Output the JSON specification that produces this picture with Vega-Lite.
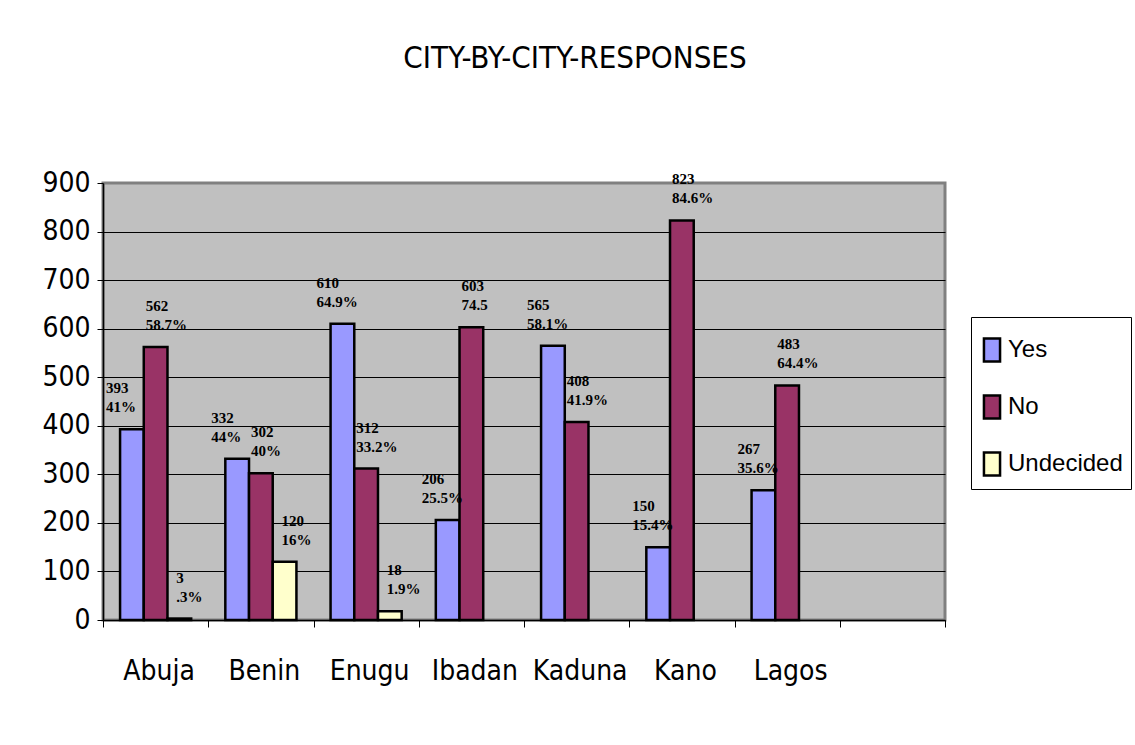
{
  "$schema": "https://vega.github.io/schema/vega-lite/v6.json",
  "width": 842,
  "height": 437,
  "autosize": {"type": "none"},
  "padding": {"left": 103, "top": 183, "right": 190, "bottom": 125},
  "background": "white",
  "title": {
    "text": "CITY-BY-CITY-RESPONSES",
    "font": "Liberation Sans Narrow, Arial Narrow, DejaVu Sans Condensed, Liberation Sans, sans-serif",
    "fontSize": 31,
    "fontWeight": "normal",
    "color": "black",
    "anchor": "middle",
    "frame": "group",
    "dx": 51,
    "baseline": "alphabetic",
    "offset": 70
  },
  "data": {
    "values": [
      {"city": "Abuja", "series": "Yes", "value": 393, "label": "393\n41%"},
      {"city": "Abuja", "series": "No", "value": 562, "label": "562\n58.7%"},
      {"city": "Abuja", "series": "Undecided", "value": 3, "label": "3\n.3%"},
      {"city": "Benin", "series": "Yes", "value": 332, "label": "332\n44%"},
      {"city": "Benin", "series": "No", "value": 302, "label": "302\n40%"},
      {"city": "Benin", "series": "Undecided", "value": 120, "label": "120\n16%"},
      {"city": "Enugu", "series": "Yes", "value": 610, "label": "610\n64.9%"},
      {"city": "Enugu", "series": "No", "value": 312, "label": "312\n33.2%"},
      {"city": "Enugu", "series": "Undecided", "value": 18, "label": "18\n1.9%"},
      {"city": "Ibadan", "series": "Yes", "value": 206, "label": "206\n25.5%"},
      {"city": "Ibadan", "series": "No", "value": 603, "label": "603\n74.5"},
      {"city": "Kaduna", "series": "Yes", "value": 565, "label": "565\n58.1%"},
      {"city": "Kaduna", "series": "No", "value": 408, "label": "408\n41.9%"},
      {"city": "Kano", "series": "Yes", "value": 150, "label": "150\n15.4%"},
      {"city": "Kano", "series": "No", "value": 823, "label": "823\n84.6%"},
      {"city": "Lagos", "series": "Yes", "value": 267, "label": "267\n35.6%"},
      {"city": "Lagos", "series": "No", "value": 483, "label": "483\n64.4%"}
    ]
  },
  "encoding": {
    "x": {
      "field": "city",
      "type": "nominal",
      "sort": null,
      "scale": {
        "domain": ["Abuja", "Benin", "Enugu", "Ibadan", "Kaduna", "Kano", "Lagos", ""],
        "paddingInner": 0,
        "paddingOuter": 0
      },
      "axis": {
        "title": null,
        "labelAngle": 0,
        "tickBand": "extent",
        "tickSize": 7,
        "tickColor": "black",
        "tickWidth": 1,
        "domainColor": "black",
        "domainWidth": 1.5,
        "labelFont": "Liberation Sans Narrow, Arial Narrow, DejaVu Sans Condensed, Liberation Sans, sans-serif",
        "labelFontSize": 28,
        "labelColor": "black",
        "labelPadding": 30,
        "labelOffset": 3,
        "grid": false
      }
    },
    "xOffset": {
      "field": "series",
      "type": "nominal",
      "scale": {"domain": ["Yes", "No", "Undecided"], "paddingInner": 0, "paddingOuter": 0.72}
    },
    "y": {
      "field": "value",
      "type": "quantitative",
      "scale": {"domain": [0, 900], "nice": false},
      "axis": {
        "title": null,
        "values": [0, 100, 200, 300, 400, 500, 600, 700, 800, 900],
        "labelFont": "Liberation Sans Narrow, Arial Narrow, DejaVu Sans Condensed, Liberation Sans, sans-serif",
        "labelFontSize": 28,
        "labelColor": "black",
        "labelPadding": 7,
        "tickSize": 6,
        "tickColor": "black",
        "domainColor": "black",
        "domainWidth": 1.5,
        "grid": true,
        "gridColor": {"condition": {"test": "datum.value >= 900", "value": "transparent"}, "value": "black"},
        "gridWidth": 1,
        "gridOpacity": 1
      }
    }
  },
  "layer": [
    {
      "mark": {"type": "bar", "stroke": "black", "strokeWidth": 2.5},
      "encoding": {
        "fill": {
          "field": "series",
          "type": "nominal",
          "scale": {"domain": ["Yes", "No", "Undecided"], "range": ["#9999FF", "#993366", "#FFFFCC"]},
          "legend": {
            "orient": "none",
            "legendX": 868,
            "legendY": 134,
            "title": " ",
            "titleFontSize": 4,
            "titlePadding": 8,
            "strokeColor": "black",
            "fillColor": "white",
            "padding": 8,
            "labelFont": "Liberation Sans, Arial, sans-serif",
            "labelFontSize": 24,
            "labelColor": "black",
            "labelOffset": 3,
            "symbolType": "M-0.7,-1H0.7V1H-0.7Z",
            "symbolSize": 529,
            "symbolStrokeColor": "black",
            "symbolStrokeWidth": 2.5,
            "symbolOpacity": 1,
            "rowPadding": 23
          }
        }
      }
    },
    {
      "transform": [{"filter": "datum.series == 'Yes'"}],
      "mark": {"type": "text", "align": "left", "baseline": "bottom", "dx": -26, "dy": -33, "lineBreak": "\n", "lineHeight": 19, "font": "Liberation Serif, Times New Roman, serif", "fontSize": 15, "fontWeight": "bold", "color": "black"},
      "encoding": {"text": {"field": "label"}}
    },
    {
      "transform": [{"filter": "datum.series == 'No'"}],
      "mark": {"type": "text", "align": "left", "baseline": "bottom", "dx": -10, "dy": -33, "lineBreak": "\n", "lineHeight": 19, "font": "Liberation Serif, Times New Roman, serif", "fontSize": 15, "fontWeight": "bold", "color": "black"},
      "encoding": {"text": {"field": "label"}}
    },
    {
      "transform": [{"filter": "datum.series == 'Undecided'"}],
      "mark": {"type": "text", "align": "left", "baseline": "bottom", "dx": -3, "dy": -33, "lineBreak": "\n", "lineHeight": 19, "font": "Liberation Serif, Times New Roman, serif", "fontSize": 15, "fontWeight": "bold", "color": "black"},
      "encoding": {"text": {"field": "label"}}
    }
  ],
  "config": {
    "view": {"fill": "#C0C0C0", "stroke": "#808080", "strokeWidth": 3}
  }
}
